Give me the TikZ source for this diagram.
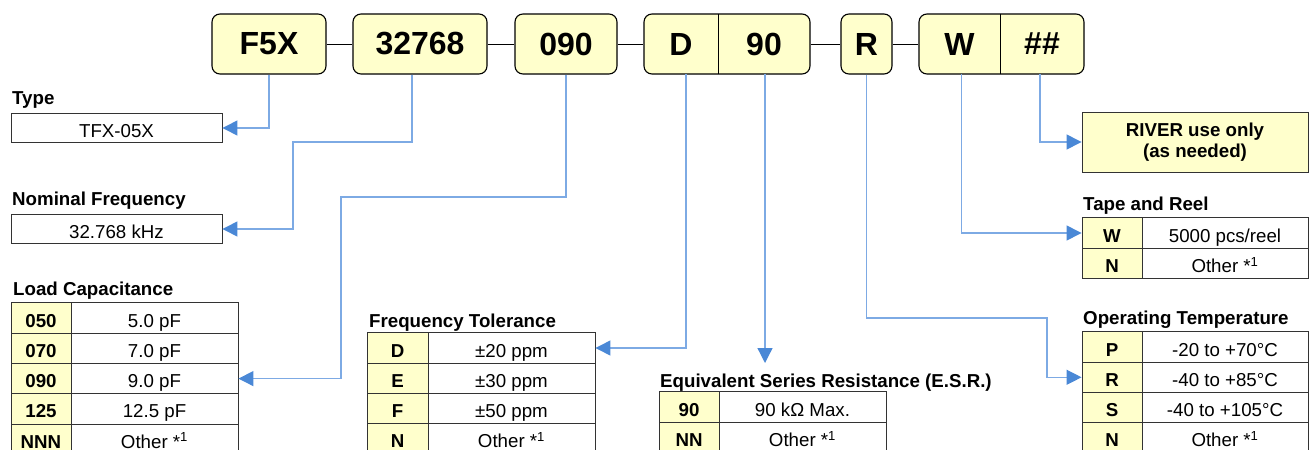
\documentclass[tikz,border=0pt]{standalone}
\usepackage{fontspec}
\setmainfont{Liberation Sans}
\usepackage{xcolor}
\usepackage{tikz}
\usetikzlibrary{arrows.meta}

\definecolor{partyellow}{RGB}{255,255,204}
\definecolor{linkblue}{RGB}{125,170,228}
\definecolor{tipblue}{RGB}{74,136,214}

\tikzset{
  partbox/.style={draw=black,line width=1.1pt,rounded corners=8pt,fill=partyellow,minimum height=60pt,inner sep=0pt,font=\fontsize{32}{36}\selectfont\bfseries},
  parttext/.style={minimum height=60pt,inner sep=0pt,font=\fontsize{32}{36}\selectfont\bfseries},
  notebox/.style={draw=black!80,line width=0.9pt,fill=partyellow,inner sep=0pt,align=center,font=\fontsize{18.7}{20.5}\selectfont\bfseries},
  codecell/.style={notebox,minimum height=30.3pt,text height=18pt,text depth=0pt},
  valcell/.style={draw=black!80,line width=0.9pt,fill=white,minimum height=30.3pt,inner sep=0pt,text height=18pt,text depth=0pt,font=\fontsize{18.7}{20.5}\selectfont},
  heading/.style={anchor=base west,inner sep=0pt,font=\fontsize{18.7}{20.5}\selectfont\bfseries},
  link/.style={draw=linkblue,line width=1.3pt,-{Triangle[length=15pt,width=15pt,color=tipblue]}},
}

\begin{document}
\begin{tikzpicture}[x=1pt,y=-1pt]
            \useasboundingbox (0,0) rectangle (1310,450);

            % part number boxes
            \node[partbox,minimum width=114pt] (f5x) at (269,44) {F5X};
            \node[partbox,minimum width=134pt] (freq) at (420,44) {32768};
            \node[partbox,minimum width=102pt] (load) at (566,44) {090};
            \node[partbox,minimum width=166pt] (tolbox) at (727,44) {};
            \node[parttext,minimum width=74pt] (tol) at (681,44) {D};
            \node[parttext,minimum width=92pt] (esr) at (764,44) {90};
            \node[partbox,minimum width=51pt] (temp) at (866.5,44) {R};
            \node[partbox,minimum width=165pt] (reelbox) at (1001.5,44) {};
            \node[parttext,minimum width=81pt] (reel) at (959.5,44) {W};
            \node[parttext,minimum width=84pt] (river) at (1042,44) {\#\#};
            \draw[line width=1.1pt] (tol.north east) -- (tol.south east);
            \draw[line width=1.1pt] (reel.north east) -- (reel.south east);

            \draw[line width=1pt] (f5x.east) -- (freq.west);
            \draw[line width=1pt] (freq.east) -- (load.west);
            \draw[line width=1pt] (load.east) -- (tolbox.west);
            \draw[line width=1pt] (tolbox.east) -- (temp.west);
            \draw[line width=1pt] (temp.east) -- (reelbox.west);

            % type and frequency
            \node[heading] (typehead) at (12,104) {Type};
            \node[valcell,minimum width=211pt,minimum height=29pt] (typeval) at (116.5,128) {TFX-05X};
            \node[heading] (nomhead) at (12,205) {Nominal Frequency};
            \node[valcell,minimum width=211pt,minimum height=29pt] (nomval) at (116.5,229) {32.768 kHz};

            % load capacitance
            \node[heading] (lchead) at (13,295) {Load Capacitance};
            \node[codecell,minimum width=60pt] (lc050) at (41,318) {050};
            \node[valcell,minimum width=167pt] (lc050val) at (154.5,318) {5.0 pF};
            \node[codecell,minimum width=60pt] (lc070) at (41,348.3) {070};
            \node[valcell,minimum width=167pt] (lc070val) at (154.5,348.3) {7.0 pF};
            \node[codecell,minimum width=60pt] (lc090) at (41,378.6) {090};
            \node[valcell,minimum width=167pt] (lc090val) at (154.5,378.6) {9.0 pF};
            \node[codecell,minimum width=60pt] (lc125) at (41,408.9) {125};
            \node[valcell,minimum width=167pt] (lc125val) at (154.5,408.9) {12.5 pF};
            \node[codecell,minimum width=60pt] (lcnnn) at (41,439.2) {NNN};
            \node[valcell,minimum width=167pt] (lcnnnval) at (154.5,439.2) {Other *\textsuperscript{1}};

            % frequency tolerance
            \node[heading] (fthead) at (369,327) {Frequency Tolerance};
            \node[codecell,minimum width=61pt] (ftD) at (397.5,348) {D};
            \node[valcell,minimum width=167pt] (ftDval) at (511.5,348) {±20 ppm};
            \node[codecell,minimum width=61pt] (ftE) at (397.5,378.3) {E};
            \node[valcell,minimum width=167pt] (ftEval) at (511.5,378.3) {±30 ppm};
            \node[codecell,minimum width=61pt] (ftF) at (397.5,408.6) {F};
            \node[valcell,minimum width=167pt] (ftFval) at (511.5,408.6) {±50 ppm};
            \node[codecell,minimum width=61pt] (ftN) at (397.5,438.9) {N};
            \node[valcell,minimum width=167pt] (ftNval) at (511.5,438.9) {Other *\textsuperscript{1}};

            % series resistance
            \node[heading] (esrhead) at (660,387) {Equivalent Series Resistance (E.S.R.)};
            \node[codecell,minimum width=60pt] (esr90) at (689,407) {90};
            \node[valcell,minimum width=167pt] (esr90val) at (802.5,407) {90 kΩ Max.};
            \node[codecell,minimum width=60pt] (esrnn) at (689,437.3) {NN};
            \node[valcell,minimum width=167pt] (esrnnval) at (802.5,437.3) {Other *\textsuperscript{1}};

            % river box
            \node[notebox,minimum width=226pt,minimum height=60pt] (riverbox) at (1195,142) {RIVER use only\\(as needed)};

            % tape and reel
            \node[heading] (trhead) at (1083,210) {Tape and Reel};
            \node[codecell,minimum width=60pt] (trW) at (1112,233) {W};
            \node[valcell,minimum width=166pt] (trWval) at (1225,233) {5000 pcs/reel};
            \node[codecell,minimum width=60pt] (trN) at (1112,263.3) {N};
            \node[valcell,minimum width=166pt] (trNval) at (1225,263.3) {Other *\textsuperscript{1}};

            % operating temperature
            \node[heading] (othead) at (1083,324) {Operating Temperature};
            \node[codecell,minimum width=60pt] (otP) at (1112,347) {P};
            \node[valcell,minimum width=166pt] (otPval) at (1225,347) {-20 to +70°C};
            \node[codecell,minimum width=60pt] (otR) at (1112,377.3) {R};
            \node[valcell,minimum width=166pt] (otRval) at (1225,377.3) {-40 to +85°C};
            \node[codecell,minimum width=60pt] (otS) at (1112,407.6) {S};
            \node[valcell,minimum width=166pt] (otSval) at (1225,407.6) {-40 to +105°C};
            \node[codecell,minimum width=60pt] (otN) at (1112,437.9) {N};
            \node[valcell,minimum width=166pt] (otNval) at (1225,437.9) {Other *\textsuperscript{1}};

            % links
            \coordinate (esrtip) at (765,363);
            \draw[link] (f5x.south) |- (typeval.east);
            \draw[link] ([xshift=-8pt]freq.south) |- (293,142) |- (nomval.east);
            \draw[link] (load.south) |- (341,197) |- (lc090val.east);
            \draw[link] ([xshift=5pt]tol.south) |- (ftDval.east);
            \draw[link] ([xshift=1pt]esr.south) -- (esrtip);
            \draw[link] (temp.south) |- (1047,318) |- (otR.west);
            \draw[link] ([xshift=2pt]reel.south) |- (trW.west);
            \draw[link] ([xshift=-2pt]river.south) |- (riverbox.west);
        \end{tikzpicture}
\end{document}
